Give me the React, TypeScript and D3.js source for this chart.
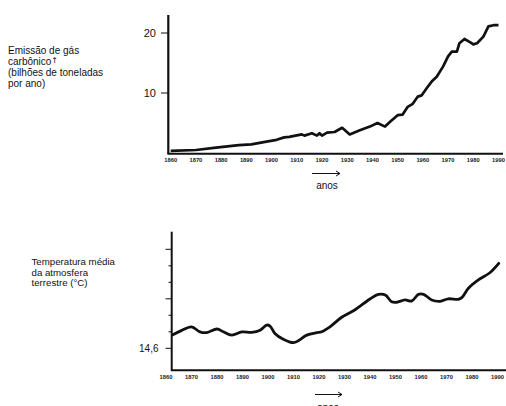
import React from "react";
import * as d3 from "d3";

// ---- Data: CO2 emission (billions of tonnes/year) ----
const co2Years = [1860, 1870, 1878, 1887, 1892, 1898, 1902, 1905, 1907, 1912, 1913, 1916, 1918, 1919, 1920, 1922, 1925, 1928, 1931, 1935, 1939, 1942, 1945, 1947, 1950, 1952, 1954, 1956, 1958, 1959.5, 1961.5, 1963.5, 1965.5, 1968, 1970, 1971.5, 1973.5, 1974.5, 1976.5, 1979, 1980, 1981.5, 1984, 1986, 1988, 1990];
const co2Values = [0.35, 0.5, 0.9, 1.3, 1.45, 1.9, 2.2, 2.6, 2.7, 3.1, 2.9, 3.3, 2.9, 3.3, 2.9, 3.4, 3.5, 4.2, 3.1, 3.8, 4.4, 5.0, 4.4, 5.2, 6.3, 6.4, 7.7, 8.2, 9.4, 9.6, 10.8, 11.9, 12.7, 14.4, 16.1, 16.9, 16.9, 18.3, 19.0, 18.4, 18.1, 18.3, 19.4, 21.1, 21.3, 21.3];
const co2Ticks = [10, 20];

// ---- Data: mean temperature (°C) ----
const tempYears = [1862.5, 1866, 1870, 1873.3, 1876, 1880, 1882.5, 1885.8, 1889.7, 1893.6, 1896.9, 1899.5, 1900.8, 1902.7, 1906, 1910, 1911.9, 1915.2, 1919.1, 1921, 1924.3, 1928.9, 1934, 1940, 1943.3, 1946, 1948.5, 1950.5, 1953.7, 1956.4, 1959, 1961, 1964.2, 1967.5, 1970.7, 1974.6, 1976, 1978.6, 1982.5, 1987, 1990.5];
const tempValues = [14.68, 14.707, 14.73, 14.70, 14.695, 14.717, 14.70, 14.68, 14.699, 14.697, 14.71, 14.741, 14.735, 14.69, 14.655, 14.634, 14.646, 14.68, 14.695, 14.70, 14.73, 14.788, 14.832, 14.899, 14.927, 14.923, 14.882, 14.879, 14.893, 14.887, 14.927, 14.927, 14.893, 14.885, 14.90, 14.897, 14.907, 14.964, 15.014, 15.058, 15.115];
const tempMajorTicks = [14.6, 14.9, 15.2];
const tempMinorTicks = [14.7, 14.8, 15.0, 15.1];
const tempTickLabels = ["14,6", "", ""];

const decadeLabels = ["1860", "1870", "1880", "1890", "1900", "1910", "1920", "1930", "1940", "1950", "1960", "1970", "1980", "1990"];

const FONT = "'Liberation Sans', Arial, sans-serif";
const INK = "#111";

export default function App() {
  // top chart scales
  const x1 = d3.scaleLinear().domain([1860, 1990]).range([170.7, 498.5]);
  const y1 = d3.scaleLinear().domain([0, 20]).range([153, 33]);
  const line1 = d3
    .line<number>()
    .x((_, i) => x1(co2Years[i]))
    .y((d) => y1(d))
    .curve(d3.curveLinear);

  // bottom chart scales
  const x2 = d3.scaleLinear().domain([1860, 1990]).range([166, 497.5]);
  const y2 = d3.scaleLinear().domain([14.6, 15.2]).range([348.3, 249.3]);
  const line2 = d3
    .line<number>()
    .x((_, i) => x2(tempYears[i]))
    .y((d) => y2(d))
    .curve(d3.curveCatmullRom.alpha(0.5));

  const arrow = (xa: number, xb: number, y: number) => (
    <g stroke={INK} strokeWidth={1} fill="none">
      <line x1={xa} y1={y} x2={xb} y2={y} />
      <path d={`M${xb - 4},${y - 2.5} L${xb},${y} L${xb - 4},${y + 2.5}`} />
    </g>
  );

  return (
    <svg
      width={506}
      height={406}
      style={{ position: "absolute", left: 0, top: 0, background: "#fff" }}
      fontFamily={FONT}
    >
      <rect width={506} height={406} fill="#fff" />

      {/* ---------- Top chart ---------- */}
      <g fill={INK} fontSize={10}>
        <text x={8} y={54}>Emissão de gás</text>
        <text x={8} y={65}>
          carbônico
          <tspan fontSize={8} dy={-2} fontFamily="'DejaVu Sans', sans-serif">↑</tspan>
        </text>
        <text x={8} y={76}>(bilhões de toneladas</text>
        <text x={8} y={87}>por ano)</text>
      </g>

      {/* y axis */}
      <line x1={168.3} y1={15} x2={168.3} y2={154} stroke={INK} strokeWidth={2.2} />
      {co2Ticks.map((t) => (
        <g key={t}>
          <line x1={161} x2={168} y1={y1(t)} y2={y1(t)} stroke={INK} strokeWidth={1} />
          <text x={156} y={y1(t) + 4} textAnchor="end" fontSize={11} fill={INK}>
            {t}
          </text>
        </g>
      ))}
      {/* x axis */}
      <line x1={167.5} y1={153.8} x2={503} y2={153.8} stroke={INK} strokeWidth={2} />
      {decadeLabels.map((l, i) => (
        <text
          key={l}
          x={x1(1860 + i * 10)}
          y={161.5}
          textAnchor="middle"
          fontSize={5.8}
          fontWeight="bold"
          fill="#222"
        >
          {l}
        </text>
      ))}
      <path d={line1(co2Values) || ""} fill="none" stroke={INK} strokeWidth={2.7} strokeLinejoin="round" />
      {arrow(312, 340, 173.5)}
      <text x={327} y={189} textAnchor="middle" fontSize={10} fill={INK}>
        anos
      </text>

      {/* ---------- Bottom chart ---------- */}
      <g fill={INK} fontSize={9.7}>
        <text x={31.5} y={264.5}>Temperatura média</text>
        <text x={31.5} y={275.5}>da atmosfera</text>
        <text x={31.5} y={286}>terrestre (°C)</text>
      </g>

      <line x1={171.7} y1={231.7} x2={171.7} y2={371} stroke={INK} strokeWidth={2} />
      {tempMajorTicks.map((t, i) => (
        <g key={t}>
          <line x1={165.5} x2={171.7} y1={y2(t)} y2={y2(t)} stroke={INK} strokeWidth={1} />
          {tempTickLabels[i] && (
            <text x={158.5} y={y2(t) + 3.5} textAnchor="end" fontSize={10} fill={INK}>
              {tempTickLabels[i]}
            </text>
          )}
        </g>
      ))}
      {tempMinorTicks.map((t) => (
        <line key={t} x1={168.5} x2={171.7} y1={y2(t)} y2={y2(t)} stroke={INK} strokeWidth={1} />
      ))}
      <line x1={171} y1={370.2} x2={506} y2={370.2} stroke={INK} strokeWidth={2} />
      {decadeLabels.map((l, i) => (
        <text
          key={l}
          x={x2(1860 + i * 10)}
          y={379}
          textAnchor="middle"
          fontSize={5.8}
          fontWeight="bold"
          fill="#222"
        >
          {l}
        </text>
      ))}
      <path d={line2(tempValues) || ""} fill="none" stroke={INK} strokeWidth={2.8} strokeLinejoin="round" strokeLinecap="round" />
      {arrow(315, 342, 394.5)}
      <text x={328} y={411} textAnchor="middle" fontSize={10} fill={INK}>
        anos
      </text>
    </svg>
  );
}
